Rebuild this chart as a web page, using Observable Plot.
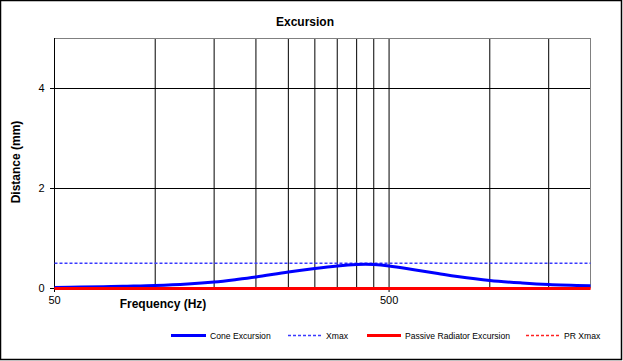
<!DOCTYPE html>
<html>
<head>
<meta charset="utf-8">
<script src="https://cdn.jsdelivr.net/npm/d3@7"></script>
<script src="https://cdn.jsdelivr.net/npm/@observablehq/plot@0.6"></script>
<style>
  html, body { margin: 0; padding: 0; background: #fff; }
  #chart { width: 623px; height: 361px; }
</style>
</head>
<body>
<div id="chart"></div>
<script>
// ---- data ----
const freq = [50, 60, 70, 80, 100, 125, 150, 175, 200, 250, 300, 350, 400, 425, 450, 500, 600, 700, 800, 1000, 1250, 1500, 2000];
const coneExcursion = [0.02, 0.03, 0.035, 0.045, 0.06, 0.09, 0.13, 0.18, 0.23, 0.33, 0.40, 0.45, 0.48, 0.485, 0.48, 0.45, 0.37, 0.30, 0.24, 0.16, 0.11, 0.08, 0.055];
const xmax = freq.map(() => 0.5);
const prExcursion = freq.map(() => 0);
const prXmax = freq.map(() => 0);

const xMajorTicks = [50, 500];
const xMinorGrid = [100, 150, 200, 250, 300, 350, 400, 450, 500, 1000, 1500];
const yTicks = [0, 2, 4];
const yGrid = [2, 4];
const xDomain = [50, 2000];
const yDomain = [0, 5];

const series = (vals) => freq.map((f, i) => ({ f, v: vals[i] }));

const blueDash = "#3a3aff";
const redDash = "#ff2020";

const svg = Plot.plot({
  width: 623,
  height: 361,
  marginLeft: 54,
  marginRight: 33,
  marginTop: 38,
  marginBottom: 73,
  style: { fontFamily: "Liberation Sans, Arial, sans-serif", fontSize: "11px", background: "#fff", color: "#000" },
  x: { type: "log", domain: xDomain },
  y: { domain: yDomain },
  marks: [
    Plot.ruleX(xMinorGrid, { stroke: "#000", strokeWidth: 1 }),
    Plot.ruleY(yGrid, { stroke: "#000", strokeWidth: 1 }),
    Plot.ruleY([yDomain[1]], { stroke: "#808080", strokeWidth: 1 }),
    Plot.ruleX([xDomain[1]], { stroke: "#808080", strokeWidth: 1 }),
    Plot.ruleX([xDomain[0]], { stroke: "#000", strokeWidth: 1 }),
    Plot.axisY({ ticks: yTicks, tickFormat: d => String(d), tickSize: 4, tickPadding: 6, label: null, fontSize: 11 }),
    Plot.axisX({ ticks: xMajorTicks, tickFormat: d => String(d), tickSize: 4, tickPadding: 4, label: null, fontSize: 11 }),
    Plot.line(series(xmax), { x: "f", y: "v", stroke: blueDash, strokeWidth: 1.5, strokeDasharray: "3,2", strokeLinecap: "butt", dy: -0.3 }),
    Plot.line(series(coneExcursion), { x: "f", y: "v", stroke: "#0000ff", strokeWidth: 3, curve: "catmull-rom", strokeLinecap: "butt" }),
    Plot.line(series(prXmax), { x: "f", y: "v", stroke: redDash, strokeWidth: 1.5, strokeDasharray: "3,2", strokeLinecap: "butt" }),
    Plot.line(series(prExcursion), { x: "f", y: "v", stroke: "#ff0000", strokeWidth: 3, strokeLinecap: "butt" })
  ]
});

const s = d3.select(svg);
// outer chart border
s.append("rect").attr("x", 0.5).attr("y", 0.5).attr("width", 621).attr("height", 359)
  .attr("fill", "none").attr("stroke", "#000").attr("stroke-width", 1.5);

const font = "Liberation Sans, Arial, sans-serif";
s.append("text").text("Excursion").attr("x", 305).attr("y", 26)
  .attr("text-anchor", "middle").attr("font-family", font).attr("font-size", 12).attr("font-weight", "bold");
s.append("text").text("Frequency (Hz)").attr("x", 163).attr("y", 308)
  .attr("text-anchor", "middle").attr("font-family", font).attr("font-size", 12).attr("font-weight", "bold");
s.append("text").text("Distance (mm)").attr("transform", "translate(20,162) rotate(-90)")
  .attr("text-anchor", "middle").attr("font-family", font).attr("font-size", 12).attr("font-weight", "bold");

// legend
const legendItems = [
  { label: "Cone Excursion", color: "#0000ff", width: 3, dash: null, x1: 171, x2: 206, tx: 210 },
  { label: "Xmax", color: blueDash, width: 1.5, dash: "3,2", x1: 288, x2: 322, tx: 326 },
  { label: "Passive Radiator Excursion", color: "#ff0000", width: 3, dash: null, x1: 367, x2: 401, tx: 405 },
  { label: "PR Xmax", color: redDash, width: 1.5, dash: "3,2", x1: 526, x2: 560, tx: 564 }
];
const lg = s.append("g").attr("text-anchor", "start");
for (const it of legendItems) {
  const l = lg.append("line").attr("x1", it.x1).attr("x2", it.x2).attr("y1", 335.5).attr("y2", 335.5)
    .attr("stroke", it.color).attr("stroke-width", it.width);
  if (it.dash) l.attr("stroke-dasharray", it.dash);
  lg.append("text").text(it.label).attr("x", it.tx).attr("y", 338.5).attr("text-anchor", "start")
    .attr("font-family", font).attr("font-size", 8.6).attr("fill", "#000");
}

document.getElementById("chart").appendChild(svg);
</script>
</body>
</html>
